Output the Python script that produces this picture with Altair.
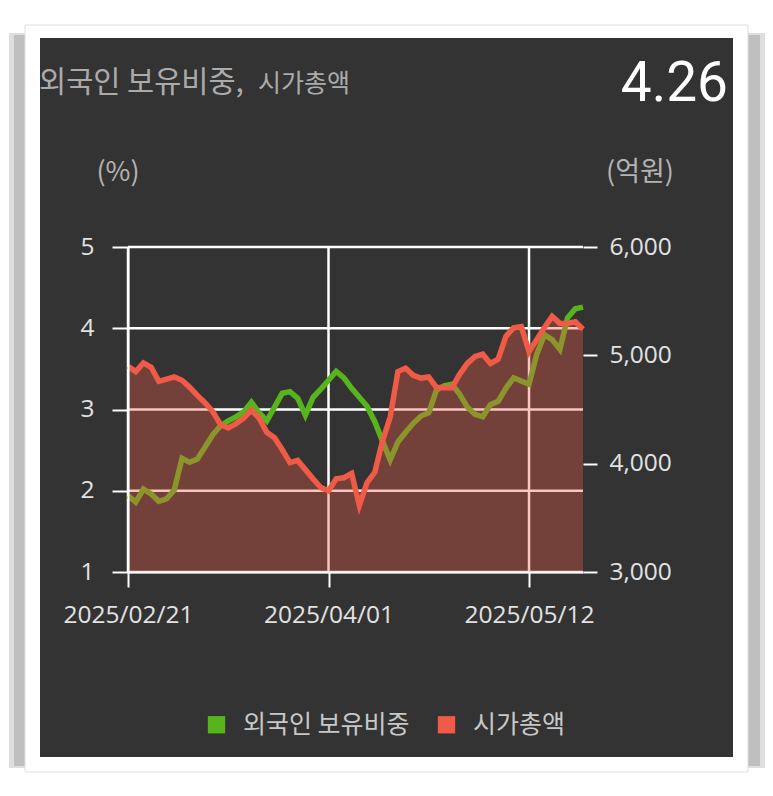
import altair as alt
import pandas as pd

# ---------------- data ----------------
dates = [
    "2025/02/21", "2025/02/24", "2025/02/25", "2025/02/26", "2025/02/27", "2025/02/28",
    "2025/03/04", "2025/03/05", "2025/03/06", "2025/03/07",
    "2025/03/10", "2025/03/11", "2025/03/12", "2025/03/13", "2025/03/14",
    "2025/03/17", "2025/03/18", "2025/03/19", "2025/03/20", "2025/03/21",
    "2025/03/24", "2025/03/25", "2025/03/26", "2025/03/27", "2025/03/28",
    "2025/03/31", "2025/04/01",
    "2025/04/02", "2025/04/03", "2025/04/04",
    "2025/04/07", "2025/04/08", "2025/04/09", "2025/04/10", "2025/04/11",
    "2025/04/14", "2025/04/15", "2025/04/16", "2025/04/17", "2025/04/18",
    "2025/04/21", "2025/04/22", "2025/04/23", "2025/04/24", "2025/04/25",
    "2025/04/28", "2025/04/29", "2025/04/30", "2025/05/02",
    "2025/05/07", "2025/05/08", "2025/05/09", "2025/05/12",
    "2025/05/13", "2025/05/14", "2025/05/15", "2025/05/16",
    "2025/05/19", "2025/05/20", "2025/05/21",
]

foreign_pct = [
    1.94, 1.86, 2.02, 1.96, 1.87, 1.90, 2.01, 2.40, 2.35, 2.39,
    2.54, 2.69, 2.80, 2.86, 2.91, 2.97, 3.09, 2.96, 2.86, 3.03,
    3.20, 3.22, 3.14, 2.93, 3.15, 3.25, 3.36, 3.47, 3.39, 3.26,
    3.15, 3.04, 2.85, 2.61, 2.38, 2.60, 2.72, 2.83, 2.92, 2.96,
    3.24, 3.29, 3.31, 3.19, 3.03, 2.94, 2.91, 3.06, 3.10, 3.26,
    3.39, 3.35, 3.31, 3.68, 3.92, 3.86, 3.74, 4.13, 4.24, 4.26,
]

market_cap = [
    4900, 4850, 4930, 4890, 4760, 4780, 4800, 4770, 4705, 4630,
    4560, 4480, 4360, 4330, 4370, 4420, 4495, 4420, 4290, 4240,
    4130, 4010, 4030, 3945, 3860, 3780, 3750, 3860, 3870, 3910,
    3615, 3825, 3920, 4210, 4430, 4850, 4880, 4815, 4790, 4800,
    4705, 4700, 4700, 4825, 4925, 4990, 5010, 4925, 4965, 5175,
    5255, 5265, 5035, 5145, 5257, 5360, 5295, 5295, 5310, 5240,
]

series_names = ["외국인 보유비중", "시가총액"]
series_colors = ["#57b41c", "#ef5b47"]
x_tick_dates = ["2025/02/21", "2025/04/01", "2025/05/12"]
left_ticks = [1, 2, 3, 4, 5]
right_ticks = [3000, 4000, 5000, 6000]

title_main = "외국인 보유비중,"
title_sub = "시가총액"
latest_value = "4.26"
left_unit = "(%)"
right_unit = "(억원)"

GREEN, RED = series_colors
PANEL = "#333333"
LABEL_COLOR = "#e2e2e2"
KR_FONT = "Noto Sans CJK KR"
NUM_FONT = "Open Sans"

df = pd.DataFrame({"date": dates, "foreign": foreign_pct, "cap": market_cap})

# ---------------- scales & axes ----------------
x_scale = alt.Scale(type="point", domain=dates, padding=0)
x_axis = alt.Axis(
    values=x_tick_dates, labelAngle=0, grid=False, domain=True,
    domainColor="white", domainWidth=2, tickColor="white", tickWidth=2,
    tickSize=15, labelPadding=16, labelFont=NUM_FONT, labelFontSize=24.5,
    labelColor=LABEL_COLOR, labelFlush=False, labelOverlap=False,
    zindex=1, title=None,
)
left_scale = alt.Scale(domain=[1, 5], nice=False, zero=False)
left_axis = alt.Axis(
    orient="left", values=left_ticks, grid=False, domain=True,
    domainColor="white", domainWidth=2, tickColor="white", tickWidth=2,
    tickSize=16, labelPadding=18, labelFont=NUM_FONT, labelFontSize=24.5,
    labelColor=LABEL_COLOR, zindex=1, title=None,
)
right_scale = alt.Scale(domain=[3000, 6000], nice=False, zero=False)
right_axis = alt.Axis(
    orient="right", values=right_ticks, format=",d", grid=False, domain=False,
    tickColor="white", tickWidth=2, tickSize=14, labelPadding=12,
    labelFont=NUM_FONT, labelFontSize=24.5, labelColor=LABEL_COLOR,
    zindex=1, title=None,
)

X = alt.X("date:O", sort=None, scale=x_scale, axis=x_axis, title=None)

# ---------------- decoration (frame & panel) ----------------
one = alt.Chart(pd.DataFrame({"k": [0]}))
shadow_outer = one.mark_rect(color="#b5b5b5", opacity=0.45).encode(
    x=alt.value(-119), x2=alt.value(637), y=alt.value(-214), y2=alt.value(521))
shadow = one.mark_rect(color="#9a9a9a", opacity=0.45).encode(
    x=alt.value(-114), x2=alt.value(632), y=alt.value(-212), y2=alt.value(519))
frame = one.mark_rect(color="white", stroke="#dedede", strokeWidth=1).encode(
    x=alt.value(-103), x2=alt.value(620), y=alt.value(-222), y2=alt.value(525))
panel = one.mark_rect(color=PANEL).encode(
    x=alt.value(-88), x2=alt.value(605), y=alt.value(-209), y2=alt.value(510))

t_main = one.mark_text(text=title_main, font=KR_FONT, fontSize=29.5, color="#ababab",
                       align="left", baseline="alphabetic").encode(
    x=alt.value(-89), y=alt.value(-155))
t_sub = one.mark_text(text=title_sub, font=KR_FONT, fontSize=25, color="#ababab",
                      align="left", baseline="alphabetic").encode(
    x=alt.value(130), y=alt.value(-155))
t_val = one.mark_text(text=latest_value, font="Roboto", fontSize=55, color="white",
                      align="right", baseline="alphabetic").encode(
    x=alt.value(600), y=alt.value(-146))
t_left = one.mark_text(text=left_unit, font=KR_FONT, fontSize=27, color="#b3b3b3",
                       align="center", baseline="alphabetic").encode(
    x=alt.value(-10), y=alt.value(-66))
t_right = one.mark_text(text=right_unit, font=KR_FONT, fontSize=27, color="#b3b3b3",
                        align="center", baseline="alphabetic").encode(
    x=alt.value(512), y=alt.value(-66))

# ---------------- legend (from an empty square layer) ----------------
legend_layer = alt.Chart(pd.DataFrame({"series": series_names})).mark_square(
    filled=True, size=240).encode(
    color=alt.Color("series:N",
                    scale=alt.Scale(domain=series_names, range=series_colors),
                    legend=alt.Legend(
                        title=None, orient="none", legendX=76, legendY=465,
                        direction="horizontal", symbolType="square",
                        symbolSize=300, symbolStrokeWidth=0, symbolOpacity=1,
                        labelFont=KR_FONT, labelFontSize=25, labelLimit=400,
                        labelColor="#c8c8c8", labelOffset=14,
                        columnPadding=24, padding=0))
).transform_filter("false")

# ---------------- data layers ----------------
hgrid = alt.Chart(pd.DataFrame({"v": left_ticks})).mark_rule(
    color="white", strokeWidth=2.5).encode(
    y=alt.Y("v:Q", scale=left_scale, axis=left_axis))
vgrid = alt.Chart(pd.DataFrame({"d": x_tick_dates})).mark_rule(
    color="white", strokeWidth=2.5).encode(
    x=alt.X("d:O", scale=x_scale, axis=x_axis, title=None))
green_line = alt.Chart(df).mark_line(color=GREEN, strokeWidth=5.5).encode(
    x=X, y=alt.Y("foreign:Q", scale=left_scale, axis=left_axis))
layer_left = alt.layer(hgrid, vgrid, green_line)

cap_area = alt.Chart(df).mark_area(color=RED, opacity=0.35).encode(
    x=X, y=alt.Y("cap:Q", scale=right_scale, axis=right_axis),
    y2=alt.datum(3000))
red_line = alt.Chart(df).mark_line(color=RED, strokeWidth=5.5).encode(
    x=X, y=alt.Y("cap:Q", scale=right_scale, axis=right_axis))
layer_right = alt.layer(cap_area, red_line)

chart = alt.layer(
    shadow_outer, shadow, frame, panel, t_main, t_sub, t_val, t_left, t_right,
    legend_layer, layer_left, layer_right,
).resolve_scale(y="independent").properties(
    width=455, height=325,
    padding={"left": 120, "top": 239, "right": 182, "bottom": 216},
    autosize="none", background="white",
).configure_view(strokeWidth=0)

chart.save("out.html", embed_options={"renderer": "svg", "actions": False})
